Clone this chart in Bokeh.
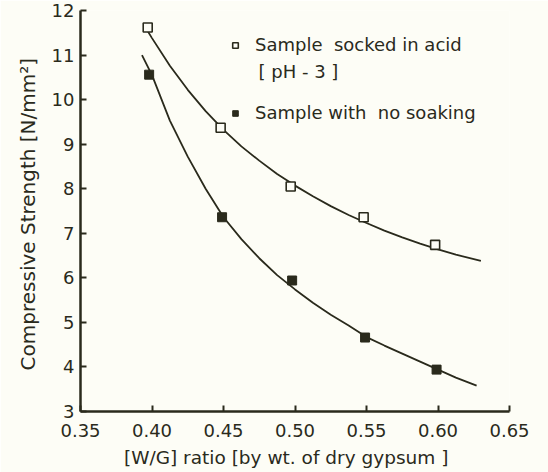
from bokeh.plotting import figure
from bokeh.models import Range1d, FixedTicker, Legend, LegendItem, Label
from bokeh.embed import file_html
from bokeh.resources import INLINE

# ---- data ----
x_ticks = [0.35, 0.40, 0.45, 0.50, 0.55, 0.60, 0.65]
x_tick_labels = ["0.35", "0.40", "0.45", "0.50", "0.55", "0.60", "0.65"]
y_ticks = [3, 4, 5, 6, 7, 8, 9, 10, 11, 12]
y_tick_labels = ["3", "4", "5", "6", "7", "8", "9", "10", "11", "12"]

acid_x = [0.397, 0.448, 0.497, 0.548, 0.598]
acid_y = [11.62, 9.37, 8.05, 7.36, 6.74]
nosoak_x = [0.398, 0.449, 0.498, 0.549, 0.599]
nosoak_y = [10.56, 7.36, 5.94, 4.66, 3.94]

# fitted curves, points
acid_fit_x = [0.395, 0.40, 0.4125, 0.425, 0.4375, 0.45, 0.4625, 0.475, 0.4875, 0.50,
              0.5125, 0.525, 0.5375, 0.55, 0.5625, 0.575, 0.5875, 0.60, 0.6125, 0.63]
acid_fit_y = [11.64, 11.38, 10.76, 10.22, 9.74, 9.32, 8.95, 8.63, 8.33, 8.07,
              7.83, 7.61, 7.41, 7.23, 7.06, 6.91, 6.77, 6.64, 6.52, 6.38]
nosoak_fit_x = [0.393, 0.40, 0.4125, 0.425, 0.4375, 0.45, 0.4625, 0.475, 0.4875, 0.50,
                0.5125, 0.525, 0.5375, 0.55, 0.5625, 0.575, 0.5875, 0.60, 0.6125, 0.627]
nosoak_fit_y = [11.00, 10.55, 9.53, 8.72, 8.00, 7.36, 6.87, 6.44, 6.06, 5.74,
                5.44, 5.17, 4.93, 4.67, 4.48, 4.30, 4.12, 3.94, 3.76, 3.58]

label_acid = "Sample  socked in acid"
label_acid2 = "[ pH  -  3 ]"
label_nosoak = "Sample with  no soaking"
x_title = "[W/G] ratio [by  wt. of  dry  gypsum ]"
y_title = "Compressive  Strength [N/mm\u00b2]"

INK = "#2a2a1c"
BG = "#fdfdf6"
FONT = "DejaVu Sans"

p = figure(width=548, height=472, output_backend="svg", toolbar_location=None,
           x_range=Range1d(0.35, 0.65), y_range=Range1d(3, 12),
           min_border_left=80, min_border_right=39, min_border_top=10, min_border_bottom=61)
p.background_fill_color = BG
p.border_fill_color = BG
p.outline_line_color = None
p.xgrid.visible = False
p.ygrid.visible = False

for ax in (p.xaxis[0], p.yaxis[0]):
    ax.axis_line_color = INK
    ax.axis_line_width = 2.5
    ax.major_tick_line_color = INK
    ax.major_tick_line_width = 2
    ax.major_tick_in = 6
    ax.major_tick_out = 0
    ax.minor_tick_line_color = None
    ax.major_label_text_font = FONT
    ax.major_label_text_font_size = "18px"
    ax.major_label_text_color = INK
    ax.axis_label_text_font = FONT
    ax.axis_label_text_font_style = "normal"
    ax.axis_label_text_color = INK

p.xaxis[0].ticker = FixedTicker(ticks=x_ticks)
p.xaxis[0].major_label_overrides = {t: l for t, l in zip(x_ticks, x_tick_labels)}
p.yaxis[0].ticker = FixedTicker(ticks=y_ticks)
p.yaxis[0].major_label_overrides = {t: l for t, l in zip(y_ticks, y_tick_labels)}
p.xaxis[0].axis_label = x_title
p.yaxis[0].axis_label = y_title
p.xaxis[0].axis_label_text_font_size = "18.5px"
p.yaxis[0].axis_label_text_font_size = "20px"
p.xaxis[0].major_label_standoff = 12
p.xaxis[0].axis_label_standoff = 7
p.yaxis[0].major_label_standoff = 6
p.yaxis[0].axis_label_standoff = 9

p.line(acid_fit_x, acid_fit_y, line_color=INK, line_width=1.8)
p.line(nosoak_fit_x, nosoak_fit_y, line_color=INK, line_width=1.8)

r_open = p.scatter(acid_x, acid_y, marker="square", size=9, line_color=INK,
                   line_width=1.6, fill_color=BG)
r_fill = p.scatter(nosoak_x, nosoak_y, marker="square", size=9, line_color=INK,
                   line_width=1, fill_color=INK)

legend = Legend(items=[LegendItem(label=label_acid, renderers=[r_open]),
                       LegendItem(label=label_nosoak, renderers=[r_fill])],
                location=(148, 288), padding=0, margin=0, spacing=47,
                glyph_width=14, glyph_height=20, label_height=20, label_standoff=13,
                border_line_color=None, background_fill_alpha=0,
                label_text_font=FONT, label_text_font_size="18px", label_text_color=INK)
p.add_layout(legend, "center")

p.add_layout(Label(x=0.4745, y=10.62, text=label_acid2, text_font=FONT,
                   text_font_size="18px", text_color=INK, text_baseline="middle"))

open("out.html", "w").write(file_html(p, INLINE))
